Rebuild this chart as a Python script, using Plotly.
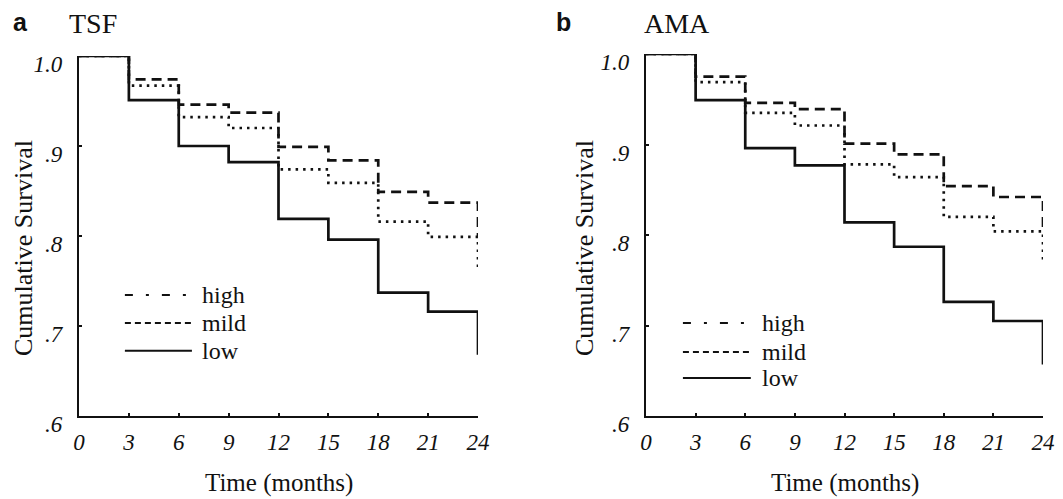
import plotly.graph_objects as go

months = [0, 3, 6, 9, 12, 15, 18, 21, 24]
tick_vals_y = [0.6, 0.7, 0.8, 0.9, 1.0]
tick_text_y = [".6", ".7", ".8", ".9", "1.0"]
tick_vals_x = [0, 3, 6, 9, 12, 15, 18, 21, 24]
tick_text_x = ["0", "3", "6", "9", "12", "15", "18", "21", "24"]

tsf_high = [1.0, 0.974, 0.946, 0.937, 0.899, 0.884, 0.849, 0.837, 0.800]
tsf_mild = [1.0, 0.967, 0.932, 0.920, 0.874, 0.859, 0.816, 0.799, 0.762]
tsf_low = [1.0, 0.951, 0.900, 0.882, 0.819, 0.796, 0.737, 0.716, 0.668]

ama_high = [1.0, 0.975, 0.946, 0.939, 0.901, 0.889, 0.854, 0.842, 0.803]
ama_mild = [1.0, 0.969, 0.935, 0.921, 0.878, 0.864, 0.820, 0.804, 0.770]
ama_low = [1.0, 0.949, 0.896, 0.877, 0.814, 0.787, 0.726, 0.705, 0.657]

panel_letters = ["a", "b"]
panel_titles = ["TSF", "AMA"]
group_names = ["high", "mild", "low"]
x_title = "Time (months)"
y_title = "Cumulative Survival"

SERIF = "Liberation Serif, Times New Roman, serif"
INK = "#111111"

# the page body has an 8px margin; the figure fills the rest of the window
W, H = 1055, 491
OFF = 8


def px(x):
    return (x - OFF) / W


def py(y):
    return 1 - (y - OFF) / H


fig = go.Figure()

plot_styles = {"high": "10px,6px", "mild": "2.5px,5px", "low": "solid"}
legend_styles = {"high": "8px,13px,3px,13px", "mild": "6px,4px", "low": "solid"}

panels = [
    ("x", "y", {"high": tsf_high, "mild": tsf_mild, "low": tsf_low}),
    ("x2", "y2", {"high": ama_high, "mild": ama_mild, "low": ama_low}),
]
for xa, ya, series in panels:
    for name in group_names:
        fig.add_trace(go.Scatter(
            x=months, y=series[name], mode="lines", name=name,
            line=dict(shape="hv", color=INK, width=2.7, dash=plot_styles[name]),
            xaxis=xa, yaxis=ya, showlegend=False, cliponaxis=False,
            hoverinfo="x+y+name"))

axis_common = dict(
    showgrid=False, zeroline=False, showline=True, linecolor=INK, linewidth=2.4,
    ticks="inside", ticklen=3, tickwidth=1.5, tickcolor=INK, automargin=False,
    tickfont=dict(family=SERIF, size=23, color=INK, style="italic"),
)

fig.update_layout(
    width=W, height=H,
    margin=dict(l=0, r=0, t=0, b=0, pad=0),
    paper_bgcolor="white", plot_bgcolor="white",
    xaxis=dict(domain=[px(79), px(478)], range=[0, 24], anchor="y",
               tickvals=tick_vals_x, ticktext=tick_text_x, ticklabelstandoff=4, **axis_common),
    yaxis=dict(domain=[py(416), py(56)], range=[0.6, 1.0], anchor="x",
               tickvals=tick_vals_y, ticktext=tick_text_y, ticklabelstandoff=10,
               ticklabelshift=8, **axis_common),
    xaxis2=dict(domain=[px(646), px(1043)], range=[0, 24], anchor="y2",
                tickvals=tick_vals_x, ticktext=tick_text_x, ticklabelstandoff=4, **axis_common),
    yaxis2=dict(domain=[py(416), py(54)], range=[0.6, 1.0], anchor="x2",
                tickvals=tick_vals_y, ticktext=tick_text_y, ticklabelstandoff=10,
                ticklabelshift=8, **axis_common),
)

annotations = []
shapes = []

# panel letters and titles
title_pos = [(20, 93), (563, 677)]
for i in range(2):
    lx, tx = title_pos[i]
    annotations.append(dict(text=panel_letters[i], x=px(lx), y=py(22), xref="paper", yref="paper",
                            showarrow=False, xanchor="center", yanchor="middle",
                            font=dict(family="Liberation Sans, Arial, sans-serif", size=25, color=INK, weight="bold")))
    annotations.append(dict(text=panel_titles[i], x=px(tx), y=py(23), xref="paper", yref="paper",
                            showarrow=False, xanchor="center", yanchor="middle",
                            font=dict(family=SERIF, size=28, color=INK)))

# axis titles
for cx, ytx in [(278.5, 23), (844.5, 584)]:
    annotations.append(dict(text=x_title, x=px(cx), y=py(483), xref="paper", yref="paper",
                            showarrow=False, xanchor="center", yanchor="middle",
                            font=dict(family=SERIF, size=25, color=INK)))
    annotations.append(dict(text=y_title, x=px(ytx), y=py(248), xref="paper", yref="paper",
                            showarrow=False, xanchor="center", yanchor="middle", textangle=-90,
                            font=dict(family=SERIF, size=26, color=INK)))

# legends (drawn inside each panel)
legend_layout = [
    ("x domain", "y domain", 0.115, 0.283, 0.303, [0.336, 0.258, 0.181]),
    ("x2 domain", "y2 domain", 0.093, 0.264, 0.287, [0.257, 0.177, 0.105]),
]
for xr, yr, x0, x1, xt, ys in legend_layout:
    for name, yy in zip(group_names, ys):
        shapes.append(dict(type="line", xref=xr, yref=yr, x0=x0, x1=x1, y0=yy, y1=yy,
                           line=dict(color=INK, width=2, dash=legend_styles[name])))
        annotations.append(dict(text=name, xref=xr, yref=yr, x=xt, y=yy, showarrow=False,
                                xanchor="left", yanchor="middle",
                                font=dict(family=SERIF, size=24, color=INK)))

fig.update_layout(annotations=annotations, shapes=shapes)

fig.write_html("out.html")
